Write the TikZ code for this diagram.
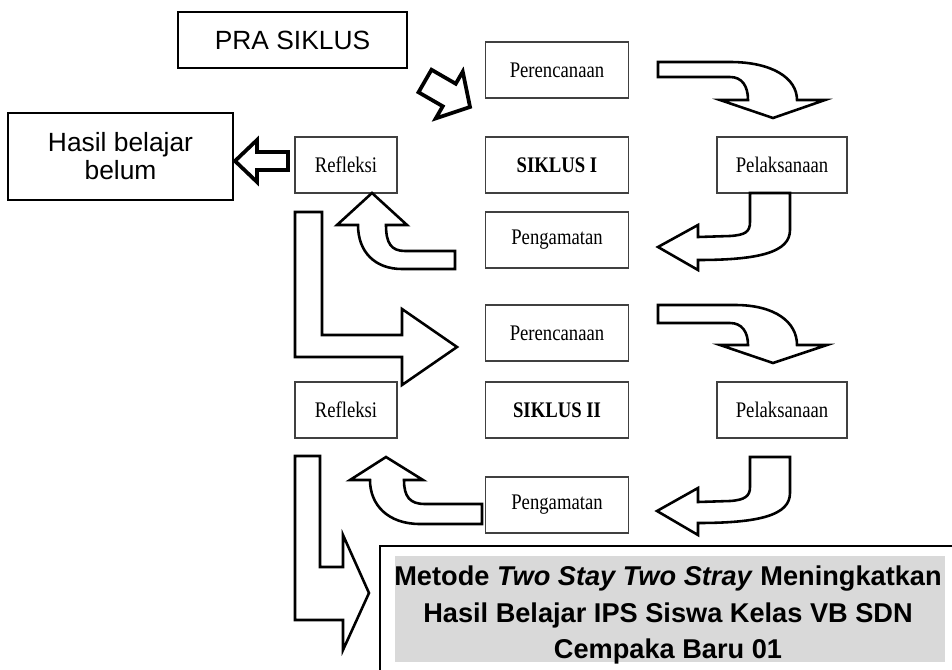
\documentclass[tikz,border=0pt]{standalone}
\usepackage{fontspec}
\setmainfont{Liberation Serif}[FakeStretch=0.84]
\newfontfamily\arialfont{Liberation Sans}
\begin{document}
\begin{tikzpicture}[x=0.3mm, y=-0.3mm,
	kotak/.style={draw=black!75, line width=0.9pt, fill=white, minimum height=16.8mm, font=\fontsize{19}{22}\selectfont},
	kotaktebal/.style={draw, line width=1.8pt, align=center, font=\arialfont\fontsize{22.5}{24}\selectfont},
	panah/.style={draw, line width=2.2pt, line join=miter, fill=white},
	panahtebal/.style={draw, line width=3.2pt, line join=miter, fill=white}]
	\useasboundingbox (0,0) rectangle (952,670);

	\node[kotaktebal, minimum width=68.7mm, minimum height=16.8mm] (pra) at (292.5,40) {PRA SIKLUS};
	\node[kotaktebal, minimum width=67.5mm, minimum height=26.1mm] (hasil) at (120.5,156.5) {Hasil belajar\\belum};

	\node[kotak, minimum width=42.9mm] (ren1) at (557,70) {Perencanaan};
	\node[kotak, minimum width=42.9mm] (sik1) at (557,165) {\bfseries SIKLUS I};
	\node[kotak, minimum width=42.9mm] (ama1) at (557,240) {Pengamatan};
	\node[kotak, minimum width=30.6mm] (ref1) at (346,165) {Refleksi};
	\node[kotak, minimum width=39mm] (pel1) at (782,165) {Pelaksanaan};

	\node[kotak, minimum width=42.9mm] (ren2) at (557,333) {Perencanaan};
	\node[kotak, minimum width=42.9mm] (sik2) at (557,410) {\bfseries SIKLUS II};
	\node[kotak, minimum width=42.9mm] (ama2) at (557,505) {Pengamatan};
	\node[kotak, minimum width=30.6mm] (ref2) at (346,410) {Refleksi};
	\node[kotak, minimum width=39mm] (pel2) at (782,410) {Pelaksanaan};

	% panah pra siklus dan hasil
	\begin{scope}[shift={(425,81)}, rotate=-30]
		\draw[panahtebal] (0,-13) -- (28,-13) -- (28,-27) -- (52,0) -- (28,27) -- (28,13) -- (0,13) -- cycle;
	\end{scope}
	\draw[panahtebal] (288,152) -- (257,152) -- (257,140) -- (235,161) -- (257,182) -- (257,170) -- (288,170) -- cycle;

	% siklus I
	\draw[panah] (658,62) -- (730,62) .. controls (772,62) and (797,78) .. (797,100) -- (825,100) -- (773,118) -- (720,100) -- (748,100) .. controls (748,86) and (742,77) .. (730,77) -- (658,77) -- cycle;
	\draw[panah] (750,193) -- (790,193) -- (790,230) .. controls (790,252) and (760,260) .. (698,260) -- (698,270) -- (658,247) -- (698,225) -- (698,237) -- (730,236) .. controls (745,235) and (750,232) .. (750,222) -- cycle;
	\draw[panah] (372,193) -- (407,225) -- (386,225) .. controls (386,243) and (391,251) .. (405,251) -- (455,251) -- (455,269) -- (402,269) .. controls (375,269) and (358,252) .. (358,225) -- (337,225) -- cycle;
	\draw[panah] (295,212) -- (322,212) -- (322,335) -- (402,335) -- (402,309) -- (457,347) -- (402,385) -- (402,357) -- (295,357) -- cycle;

	% siklus II
	\draw[panah] (658,305) -- (735,305) .. controls (775,305) and (797,322) .. (797,345) -- (827,345) -- (773,363) -- (720,345) -- (748,345) .. controls (748,332) and (742,323) .. (730,323) -- (658,323) -- cycle;
	\draw[panah] (750,457) -- (790,457) -- (790,493) .. controls (790,515) and (760,523) .. (698,523) -- (698,535) -- (657,511) -- (698,488) -- (698,502) -- (730,501) .. controls (745,500) and (750,496) .. (750,487) -- cycle;
	\draw[panah] (386,457) -- (423,480) -- (404,480) .. controls (404,497) and (410,504) .. (425,504) -- (482,504) -- (482,524) -- (420,524) .. controls (388,524) and (370,505) .. (370,480) -- (350,480) -- cycle;
	\draw[panah] (295,456) -- (320,456) -- (320,567) -- (343,567) -- (343,535) -- (369,593) -- (343,650) -- (343,620) -- (295,620) -- cycle;

	% judul
	\fill[black!15] (395,556) rectangle (945,662);
	\draw[line width=1.8pt] (952,546) -- (380,546) -- (380,670);
	\node[align=center, font=\arialfont\bfseries\fontsize{23.2}{31.5}\selectfont] (judul) at (668,615) {Metode \textit{Two Stay Two Stray} Meningkatkan\\Hasil Belajar IPS Siswa Kelas VB SDN\\Cempaka Baru 01};
\end{tikzpicture}
\end{document}
